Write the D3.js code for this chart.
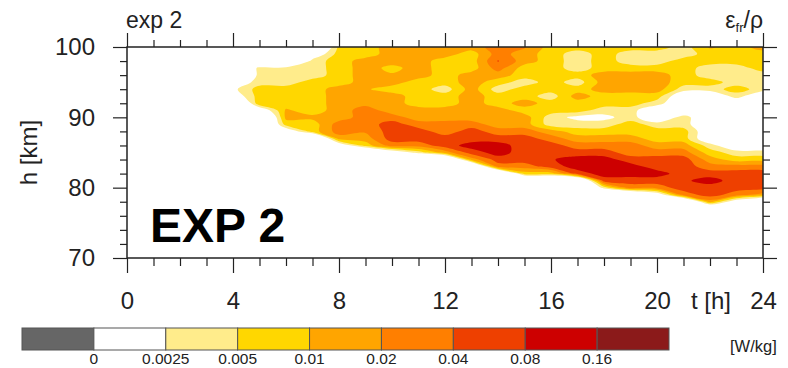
<!DOCTYPE html>
<html>
<head>
<meta charset="utf-8">
<script src="https://cdn.jsdelivr.net/npm/d3@7"></script>
<style>
  body { margin: 0; background: #fff; }
  text { font-family: "Liberation Sans", Arial, Helvetica, sans-serif; fill: #222; }
</style>
</head>
<body>
<div id="chart"></div>
<script>
// Grid of the field: hours (x) and heights (y)
const hours = [0, 1, 2, 3, 4, 5, 6, 7, 8, 9, 10, 11, 12, 13, 14, 15, 16, 17, 18, 19, 20, 21, 22, 23, 24];
const heights = [100, 99, 98, 97, 96, 95, 94, 93, 92, 91, 90, 89, 88, 87, 86, 85,
                 84, 83, 82, 81, 80, 79, 78, 77, 76, 75, 74, 73, 72, 71, 70];

// eps/rho [W/kg], one profile per hour, from 100 km down to 70 km
const epsProfiles = [
  /* 0h */ [0,0,0,0,0,0,0,0,0,0,0,0,0,0,0,0,0,0,0,0,0,0,0,0,0,0,0,0,0,0,0],
  /* 1h */ [0,0,0,0,0,0,0,0,0,0,0,0,0,0,0,0,0,0,0,0,0,0,0,0,0,0,0,0,0,0,0],
  /* 2h */ [0,0,0,0,0,0,0,0,0,0,0,0,0,0,0,0,0,0,0,0,0,0,0,0,0,0,0,0,0,0,0],
  /* 3h */ [0,0,0,0,0,0,0,0,0,0,0,0,0,0,0,0,0,0,0,0,0,0,0,0,0,0,0,0,0,0,0],
  /* 4h */ [0,0,0,0,0,.0012,.002,.0012,0,0,0,0,0,0,0,0,0,0,0,0,0,0,0,0,0,0,0,0,0,0,0],
  /* 5h */ [0,0,0,.0035,.0035,.0035,.007,.007,.009,.001,0,0,0,0,0,0,0,0,0,0,0,0,0,0,0,0,0,0,0,0,0],
  /* 6h */ [0,0,0,.0035,.0035,.0035,.007,.007,.007,.011,.012,.007,.001,0,0,0,0,0,0,0,0,0,0,0,0,0,0,0,0,0,0],
  /* 7h */ [0,.001,.0035,.0035,.0035,.007,.007,.007,.007,.007,.012,.007,.007,0,0,0,0,0,0,0,0,0,0,0,0,0,0,0,0,0,0],
  /* 8h */ [.006,.007,.007,.007,.007,.007,.014,.014,.014,.014,.014,.028,.028,.014,.001,0,0,0,0,0,0,0,0,0,0,0,0,0,0,0,0],
  /* 9h */ [.007,.007,.014,.014,.014,.014,.011,.014,.016,.028,.028,.028,.022,.014,.007,0,0,0,0,0,0,0,0,0,0,0,0,0,0,0,0],
  /* 10h */ [.014,.014,.014,.008,.011,.014,.007,.014,.014,.014,.028,.056,.056,.056,.028,.001,0,0,0,0,0,0,0,0,0,0,0,0,0,0,0],
  /* 11h */ [.014,.014,.014,.014,.014,.007,.007,.007,.007,.014,.014,.028,.056,.056,.028,.0035,0,0,0,0,0,0,0,0,0,0,0,0,0,0,0],
  /* 12h */ [.014,.014,.007,.007,.007,.007,.0035,.007,.007,.014,.014,.028,.028,.056,.056,.014,0,0,0,0,0,0,0,0,0,0,0,0,0,0,0],
  /* 13h */ [.014,.007,.007,.007,.014,.014,.014,.014,.014,.014,.014,.028,.056,.056,.11,.056,.014,0,0,0,0,0,0,0,0,0,0,0,0,0,0],
  /* 14h */ [.028,.028,.042,.028,.014,.007,.0035,.007,.007,.014,.014,.014,.028,.056,.11,.11,.056,.028,0,0,0,0,0,0,0,0,0,0,0,0,0],
  /* 15h */ [.022,.014,.014,.007,.007,.0035,.007,.007,.014,.007,.014,.014,.028,.056,.056,.056,.056,.028,.007,0,0,0,0,0,0,0,0,0,0,0,0],
  /* 16h */ [.007,.007,.007,.007,.007,.007,.007,.0035,.007,.007,.0035,.0035,.014,.028,.056,.056,.075,.056,.007,0,0,0,0,0,0,0,0,0,0,0,0],
  /* 17h */ [.007,.0035,.0035,.0035,.007,.0035,.007,.014,.007,.007,.002,.0035,.007,.014,.028,.056,.11,.11,.056,0,0,0,0,0,0,0,0,0,0,0,0],
  /* 18h */ [.007,.007,.007,.007,.014,.014,.014,.007,.007,.0035,.002,.0035,.007,.014,.028,.056,.11,.11,.11,.056,.0035,0,0,0,0,0,0,0,0,0,0],
  /* 19h */ [.007,.0035,.0035,.007,.014,.014,.014,.007,.007,.0035,.0035,.007,.007,.014,.028,.028,.056,.11,.11,.056,.028,0,0,0,0,0,0,0,0,0,0],
  /* 20h */ [.007,.0035,.0035,.007,.014,.014,.014,.007,.0035,.001,.001,.0035,.007,.007,.014,.028,.056,.056,.11,.056,.028,.001,0,0,0,0,0,0,0,0,0],
  /* 21h */ [.0035,.0035,.007,.007,.007,.007,.0035,.001,.001,.001,.0035,.0035,.007,.007,.014,.028,.056,.056,.056,.07,.056,.028,0,0,0,0,0,0,0,0,0],
  /* 22h */ [.011,.007,.007,.0035,.0035,.007,.0035,.001,.001,.001,.001,.001,.001,.001,.0035,.007,.014,.028,.056,.11,.056,.056,.014,0,0,0,0,0,0,0,0],
  /* 23h */ [.007,.007,.007,.0035,.0035,.0035,.007,.0035,.001,.001,.001,.001,.001,.001,.001,.0035,.007,.028,.056,.056,.056,.028,.001,0,0,0,0,0,0,0,0],
  /* 24h */ [.014,.007,.007,.007,.0035,.0035,.0035,.001,.001,.001,.001,.001,.001,.001,.001,.0035,.007,.028,.056,.056,.056,.014,0,0,0,0,0,0,0,0,0]
];

// Colour bar
const cbLevels = [0, 0.0025, 0.005, 0.01, 0.02, 0.04, 0.08, 0.16];
const cbLabels = ["0", "0.0025", "0.005", "0.01", "0.02", "0.04", "0.08", "0.16"];
const cbColors = ["#666666", "#ffffff", "#ffec8b", "#ffd700", "#ffa500", "#ff7f00", "#ee4000", "#cd0000", "#8b1a1a"];

// Axis ticks
const xMajor = [0, 4, 8, 12, 16, 20, 24];
const xMinor = [1, 2, 3, 5, 6, 7, 9, 10, 11, 13, 14, 15, 17, 18, 19, 21, 22, 23];
const yMajor = [70, 80, 90, 100];
const yMinor = [72, 74, 76, 78, 82, 84, 86, 88, 92, 94, 96, 98];

const width = 788, height = 368,
    margin = ({top: 47, right: 25, bottom: 110, left: 127});

const svg = d3.select("#chart")
    .append("svg")
    .attr("width", width)
    .attr("height", height);

const x = d3.scaleLinear()
    .domain([0, 24])
    .range([margin.left, width - margin.right]);

const y = d3.scaleLinear()
    .domain([70, 100])
    .range([height - margin.bottom, margin.top]);

// Clip to the plot frame
svg.append("clipPath")
    .attr("id", "plot-clip")
    .append("rect")
    .attr("x", x(0)).attr("y", y(100))
    .attr("width", x(24) - x(0)).attr("height", y(70) - y(100));

// Contour on log2 scale so filled bands interpolate smoothly
const nx = hours.length, ny = heights.length;
const grid = new Array(nx * ny);
for (let j = 0; j < ny; j++) {
    for (let i = 0; i < nx; i++) {
        grid[j * nx + i] = Math.log2(Math.max(epsProfiles[i][j], 0.00016) / 0.0025);
    }
}
const thresholds = cbLevels.slice(1).map(v => Math.log2(v / 0.0025));
const contours = d3.contours().size([nx, ny]).thresholds(thresholds)(grid);

// grid coords -> pixels (value i sits at i + 0.5)
const gx = d3.scaleLinear().domain([0.5, nx - 0.5]).range([x(hours[0]), x(hours[nx - 1])]);
const gy = d3.scaleLinear().domain([0.5, ny - 0.5]).range([y(heights[0]), y(heights[ny - 1])]);

// Rounded rings, like the smooth fills of the original
const ringLine = d3.line().curve(d3.curveCatmullRomClosed.alpha(0.5));
const contourPath = c => c.coordinates
    .map(poly => poly
        .map(ring => ringLine(ring.slice(0, -1).map(p => [gx(p[0]), gy(p[1])])))
        .join(""))
    .join("");

svg.append("g")
    .attr("clip-path", "url(#plot-clip)")
    .selectAll("path")
    .data(contours)
    .join("path")
    .attr("d", contourPath)
    .attr("fill", (d, i) => cbColors[i + 2])
    .attr("stroke", "none");

// Axes
const axisStyle = g => {
    g.select(".domain").remove();
    g.selectAll(".tick line").attr("stroke", "#222").attr("stroke-width", 1.2);
    g.selectAll("text").attr("font-size", 24).attr("fill", "#222");
};

svg.append("g")
    .attr("transform", `translate(0,${y(70)})`)
    .call(d3.axisBottom(x).tickValues(xMajor).tickSize(15).tickPadding(19))
    .call(axisStyle);
svg.append("g")
    .attr("transform", `translate(0,${y(70)})`)
    .call(d3.axisBottom(x).tickValues(xMinor).tickSize(8).tickFormat(""))
    .call(axisStyle);
svg.append("g")
    .attr("transform", `translate(0,${y(100)})`)
    .call(d3.axisTop(x).tickValues(xMajor).tickSize(14).tickFormat(""))
    .call(axisStyle);
svg.append("g")
    .attr("transform", `translate(0,${y(100)})`)
    .call(d3.axisTop(x).tickValues(xMinor).tickSize(7).tickFormat(""))
    .call(axisStyle);

svg.append("g")
    .attr("transform", `translate(${x(0)},0)`)
    .call(d3.axisLeft(y).tickValues(yMajor).tickSize(14).tickPadding(18))
    .call(axisStyle);
svg.append("g")
    .attr("transform", `translate(${x(0)},0)`)
    .call(d3.axisLeft(y).tickValues(yMinor).tickSize(7).tickFormat(""))
    .call(axisStyle);
svg.append("g")
    .attr("transform", `translate(${x(24)},0)`)
    .call(d3.axisRight(y).tickValues(yMajor).tickSize(14).tickFormat(""))
    .call(axisStyle);
svg.append("g")
    .attr("transform", `translate(${x(24)},0)`)
    .call(d3.axisRight(y).tickValues(yMinor).tickSize(7).tickFormat(""))
    .call(axisStyle);

// Frame
svg.append("rect")
    .attr("x", x(0)).attr("y", y(100))
    .attr("width", x(24) - x(0)).attr("height", y(70) - y(100))
    .attr("fill", "none")
    .attr("stroke", "#222")
    .attr("stroke-width", 1.5);

// Axis titles
svg.append("text")
    .attr("x", 731)
    .attr("y", 309)
    .attr("text-anchor", "end")
    .attr("font-size", 24)
    .text("t [h]");

svg.append("text")
    .attr("transform", `translate(37,${(y(70) + y(100)) / 2}) rotate(-90)`)
    .attr("text-anchor", "middle")
    .attr("font-size", 24)
    .text("h [km]");

// Top strings
svg.append("text")
    .attr("x", x(0) - 1)
    .attr("y", 28)
    .attr("font-size", 23)
    .text("exp 2");

const lbl = svg.append("text")
    .attr("x", x(24))
    .attr("y", 28)
    .attr("text-anchor", "end")
    .attr("font-size", 23);
lbl.append("tspan").text("ε");
lbl.append("tspan").attr("font-size", 13).attr("dy", 4).text("fr");
lbl.append("tspan").attr("dy", -4).text("/ρ");

svg.append("text")
    .attr("x", 150)
    .attr("y", 242)
    .attr("font-size", 48)
    .attr("font-weight", 700)
    .style("fill", "#000")
    .text("EXP 2");

// Colour bar
const cb = d3.scaleLinear()
    .domain([0, cbColors.length])
    .range([22, 669]);

svg.append("g")
    .selectAll("rect")
    .data(cbColors)
    .join("rect")
    .attr("x", (d, i) => cb(i))
    .attr("y", 328)
    .attr("width", (d, i) => cb(i + 1) - cb(i))
    .attr("height", 22)
    .attr("fill", d => d)
    .attr("stroke", "#555")
    .attr("stroke-width", 1);

svg.append("g")
    .selectAll("text")
    .data(cbLabels)
    .join("text")
    .attr("x", (d, i) => cb(i + 1))
    .attr("y", 364)
    .attr("text-anchor", "middle")
    .attr("font-size", 15.5)
    .text(d => d);

svg.append("text")
    .attr("x", 730)
    .attr("y", 352)
    .attr("font-size", 16.5)
    .text("[W/kg]");
</script>
</body>
</html>
